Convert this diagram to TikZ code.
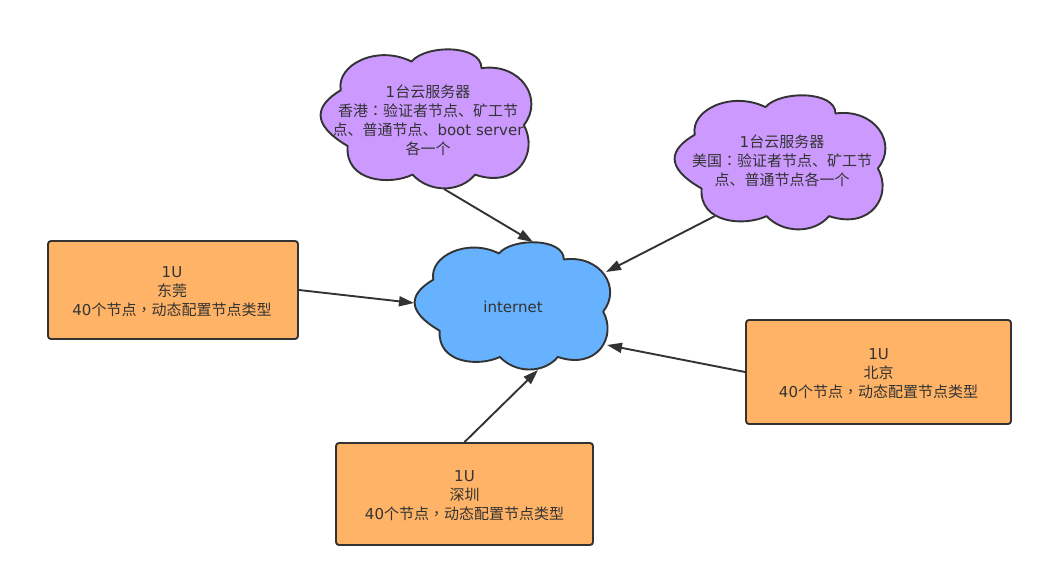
\documentclass[tikz,border=0pt]{standalone}
\usepackage{fontspec}
\setmainfont{DejaVu Sans}
\newfontfamily\cjk{Noto Sans CJK SC}
\newfontfamily\cjktc{Noto Sans CJK TC}
\usetikzlibrary{arrows.meta}
\definecolor{ink}{HTML}{333333}
\definecolor{orangefill}{HTML}{FFB366}
\definecolor{purplefill}{HTML}{CC99FF}
\definecolor{bluefill}{HTML}{66B2FF}
\newcommand{\fwpunct}[1]{{\cjktc #1}}
\newcommand{\cloudoutline}{(55,115) .. controls (42,45) and (157,-10) .. (252,37)
  .. controls (292,-10) and (447,-10) .. (447,55)
  .. controls (557,40) and (622,140) .. (565,210)
  .. controls (607,285) and (547,385) .. (429,345)
  .. controls (387,395) and (302,395) .. (255,345)
  .. controls (192,375) and (67,365) .. (74,267)
  .. controls (-33,205) and (-13,155) .. (55,115) -- cycle}
\newcommand{\fortyline}{40{\cjk 个节点}\fwpunct{，}{\cjk 动态配置节点类型}}
\tikzset{
  x=1pt,y=-1pt,
  every node/.style={font=\fontsize{15pt}{19pt}\selectfont,text=ink,align=center,inner sep=0pt},
  cloudshape/.style={draw=ink,line width=1.9pt,line join=round},
  sitebox/.style={draw=ink,fill=orangefill,line width=1.9pt,rounded corners=3pt},
  link/.style={draw=ink,line width=1.9pt,-{Triangle[length=15pt,width=10pt]},shorten >=0pt},
}
\begin{document}
\begin{tikzpicture}
\useasboundingbox (0,0) rectangle (1043,577);
% clouds
\begin{scope}[shift={(415,241)},xscale=0.333,yscale=0.336]
  \draw[cloudshape,fill=bluefill] \cloudoutline;
\end{scope}
\begin{scope}[shift={(321,48)},xscale=0.359,yscale=0.367]
  \draw[cloudshape,fill=purplefill] \cloudoutline;
\end{scope}
\begin{scope}[shift={(675,94)},xscale=0.359,yscale=0.354]
  \draw[cloudshape,fill=purplefill] \cloudoutline;
\end{scope}
% cloud texts
\node (inet) at (513,306.5) {internet};
\node (hk) at (428,120) {1{\cjk 台云服务器}\\{\cjk 香港}\fwpunct{：}{\cjk 验证者节点、矿工节}\\{\cjk 点、普通节点、}boot server\\{\cjk 各一个}};
\node (us) at (782,161) {1{\cjk 台云服务器}\\{\cjk 美国}\fwpunct{：}{\cjk 验证者节点、矿工节}\\{\cjk 点、普通节点各一个}};
% boxes
\node[sitebox,minimum width=250pt,minimum height=98pt] (dg) at (173,290) {};
\node[sitebox,minimum width=257pt,minimum height=102pt] (sz) at (464.5,494) {};
\node[sitebox,minimum width=265pt,minimum height=104pt] (bj) at (878.5,372) {};
\node (dgtext) at (172,292) {1U\\{\cjk 东莞}\\\fortyline};
\node (sztext) at (464.5,496) {1U\\{\cjk 深圳}\\\fortyline};
\node (bjtext) at (878.5,374) {1U\\{\cjk 北京}\\\fortyline};
% connector ends
\coordinate (hkout) at (444,189);
\coordinate (usout) at (715,216);
\coordinate (inA) at (533,242);
\coordinate (inB) at (606,272);
\coordinate (inC) at (414,303);
\coordinate (inD) at (607,345);
\coordinate (inE) at (538,370);
\draw[link] (hkout) -- (inA);
\draw[link] (usout) -- (inB);
\draw[link] (dg.east) -- (inC);
\draw[link] (bj.west) -- (inD);
\draw[link] (sz.north) -- (inE);
\end{tikzpicture}
\end{document}
